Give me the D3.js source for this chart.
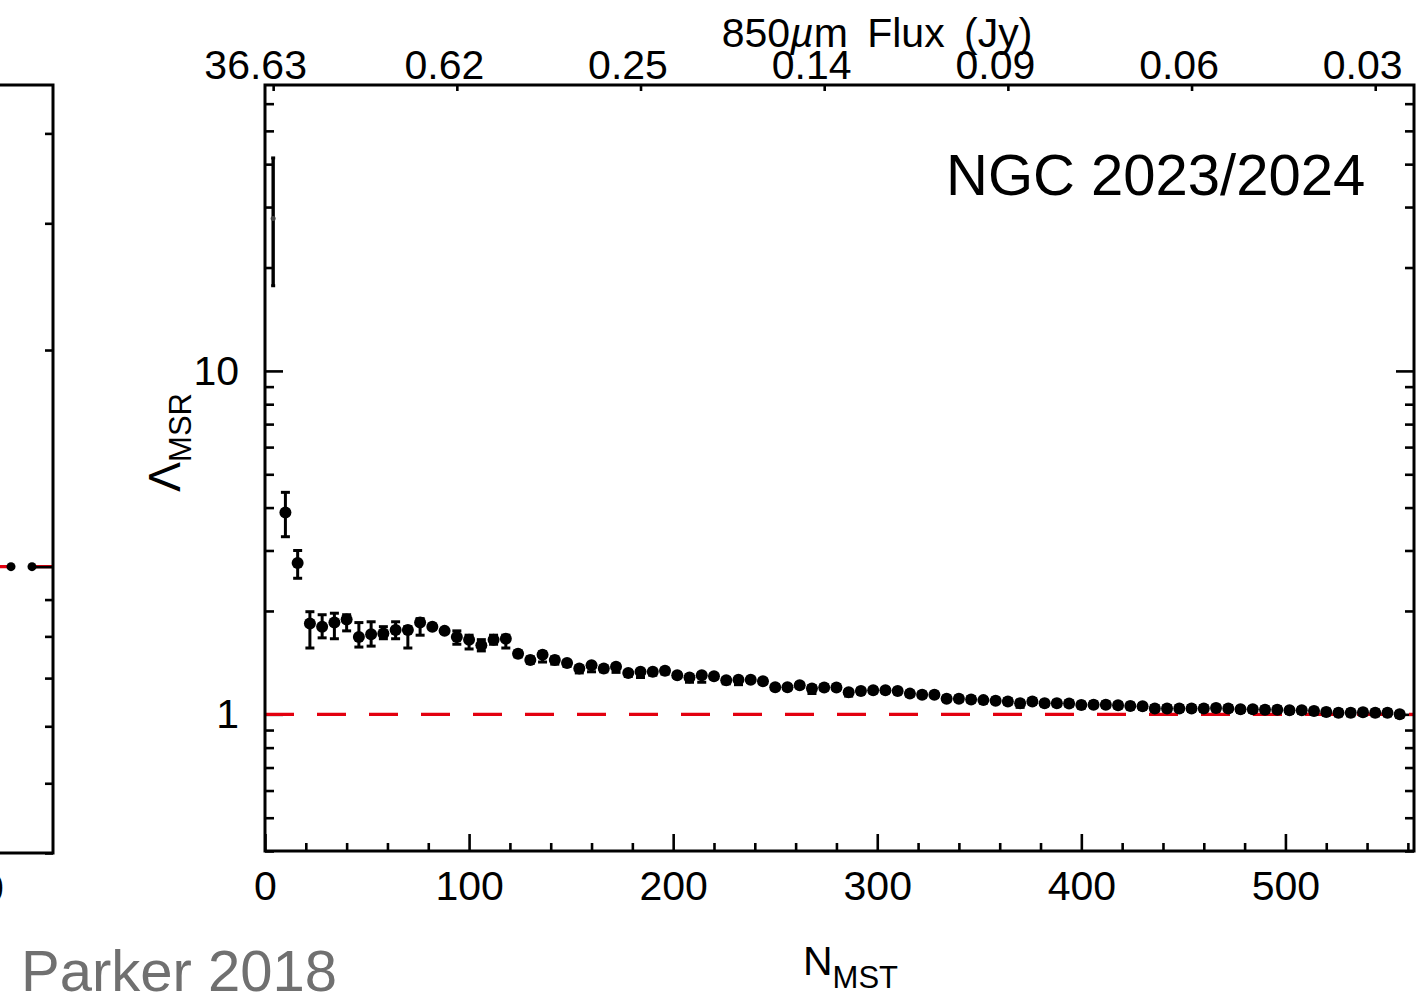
<!DOCTYPE html>
<html>
<head>
<meta charset="utf-8">
<script src="https://cdn.jsdelivr.net/npm/d3@7"></script>
<style>
  body { margin: 0; background: #fff; }
  svg { display: block; }
  text { font-family: "Liberation Sans", Arial, Helvetica, sans-serif; }
</style>
</head>
<body>
<svg id="chart" width="1424" height="994"></svg>
<script>
// Number of cores included in the minimum spanning tree
const nMST = [
  4, 10, 16, 22, 28, 34, 40, 46, 52, 58,
  64, 70, 76, 82, 88, 94, 100, 106, 112, 118,
  124, 130, 136, 142, 148, 154, 160, 166, 172, 178,
  184, 190, 196, 202, 208, 214, 220, 226, 232, 238,
  244, 250, 256, 262, 268, 274, 280, 286, 292, 298,
  304, 310, 316, 322, 328, 334, 340, 346, 352, 358,
  364, 370, 376, 382, 388, 394, 400, 406, 412, 418,
  424, 430, 436, 442, 448, 454, 460, 466, 472, 478,
  484, 490, 496, 502, 508, 514, 520, 526, 532, 538,
  544, 550, 556
];

// Mass segregation ratio for each N_MST
const lambdaMSR = [
  27.8, 3.87, 2.76, 1.84, 1.80, 1.85, 1.89, 1.68, 1.71, 1.72,
  1.76, 1.76, 1.85, 1.80, 1.75, 1.68, 1.65, 1.59, 1.65, 1.66,
  1.50, 1.44, 1.49, 1.44, 1.41, 1.36, 1.39, 1.36, 1.375, 1.32,
  1.33, 1.33, 1.34, 1.30, 1.28, 1.30, 1.29, 1.257, 1.26, 1.26,
  1.249, 1.20, 1.20, 1.216, 1.19, 1.197, 1.197, 1.16, 1.17, 1.175,
  1.175, 1.17, 1.149, 1.14, 1.14, 1.11, 1.11, 1.105, 1.10, 1.095,
  1.09, 1.078, 1.09, 1.078, 1.078, 1.075, 1.065, 1.067, 1.067, 1.063,
  1.058, 1.055, 1.04, 1.04, 1.04, 1.04, 1.04, 1.043, 1.04, 1.034,
  1.034, 1.032, 1.032, 1.027, 1.027, 1.022, 1.016, 1.01, 1.01, 1.014,
  1.01, 1.01, 1.0
];

// Lower and upper uncertainties on lambdaMSR
const errMinus = [
  10.1, 0.58, 0.27, 0.28, 0.13, 0.19, 0.14, 0.11, 0.13, 0.06,
  0.10, 0.20, 0.15, 0.03, 0.03, 0.08, 0.10, 0.06, 0.05, 0.10,
  0.03, 0.03, 0.07, 0.04, 0.03, 0.04, 0.06, 0.03, 0.05, 0.03,
  0.05, 0.03, 0.03, 0.02, 0.04, 0.06, 0.02, 0.03, 0.04, 0.02,
  0.02, 0.02, 0.02, 0.02, 0.04, 0.02, 0.02, 0.03, 0.02, 0.02,
  0.02, 0.02, 0.02, 0.02, 0.02, 0.02, 0.02, 0.02, 0.02, 0.02,
  0.02, 0.03, 0.02, 0.02, 0.02, 0.02, 0.02, 0.02, 0.02, 0.02,
  0.02, 0.02, 0.02, 0.02, 0.02, 0.02, 0.02, 0.02, 0.02, 0.02,
  0.02, 0.02, 0.02, 0.02, 0.02, 0.02, 0.02, 0.02, 0.02, 0.02,
  0.02, 0.02, 0.02
];
const errPlus = [
  13.9, 0.56, 0.24, 0.15, 0.15, 0.12, 0.06, 0.17, 0.15, 0.08,
  0.10, 0.04, 0.05, 0.03, 0.03, 0.07, 0.05, 0.06, 0.05, 0.04,
  0.03, 0.03, 0.03, 0.03, 0.02, 0.02, 0.02, 0.02, 0.02, 0.02,
  0.02, 0.02, 0.02, 0.02, 0.02, 0.02, 0.02, 0.02, 0.02, 0.02,
  0.02, 0.02, 0.02, 0.02, 0.02, 0.02, 0.02, 0.02, 0.02, 0.02,
  0.02, 0.02, 0.02, 0.02, 0.02, 0.02, 0.02, 0.02, 0.02, 0.02,
  0.02, 0.02, 0.02, 0.02, 0.02, 0.02, 0.02, 0.02, 0.02, 0.02,
  0.02, 0.02, 0.02, 0.02, 0.02, 0.02, 0.02, 0.02, 0.02, 0.02,
  0.02, 0.02, 0.02, 0.02, 0.02, 0.02, 0.02, 0.02, 0.02, 0.02,
  0.02, 0.02, 0.02
];

// Bottom axis ticks (N_MST)
const xMajorTicks = [0, 100, 200, 300, 400, 500];
const xMinorTicks = [20, 40, 60, 80, 120, 140, 160, 180, 220, 240, 260, 280,
  320, 340, 360, 380, 420, 440, 460, 480, 520, 540, 560];

// Left / right axis ticks (lambda_MSR, log)
const yMajorTicks = [1, 10];
const yMinorTicks = [0.4, 0.5, 0.6, 0.7, 0.8, 0.9, 2, 3, 4, 5, 6, 7, 8, 9, 20, 30, 40, 50, 60];

// Top axis: 850 micron flux of the N-th core
const fluxTickN = [4, 94, 184, 274, 364, 454, 544];
const fluxTickLabels = ["36.63", "0.62", "0.25", "0.14", "0.09", "0.06", "0.03"];

// Neighbouring panel (only its right edge is shown)
const sideN = [262, 268];
const sideLambda = [1.0, 1.0];
const sideXTicks = [250];
const sideYMajorTicks = [1];
const sideYMinorTicks = [0.4, 0.5, 0.6, 0.7, 0.8, 0.9, 2, 3, 4];

(function draw() {
  const svg = d3.select("#chart");
  const RED = "#e3000f";
  const FONT_TICK = 41;

  // ---------- main panel ----------
  const pLeft = 265, pRight = 1414, pTop = 85, pBottom = 851;
  const x = d3.scaleLinear().domain([0, 563]).range([pLeft, pRight]);
  const y = d3.scaleLog().domain([0.4, 68]).range([pBottom, pTop]);

  const main = svg.append("g");

  function styleAxis(g) {
    g.select(".domain").remove();
    g.selectAll(".tick line").attr("stroke", "#000").attr("stroke-width", 2.6);
    g.selectAll(".tick text").attr("fill", "#000").style("font-size", FONT_TICK + "px");
  }

  // bottom axis
  main.append("g").attr("transform", `translate(0,${pBottom})`)
    .call(d3.axisBottom(x).tickValues(xMinorTicks).tickSize(-8).tickFormat(""))
    .call(styleAxis);
  main.append("g").attr("transform", `translate(0,${pBottom})`)
    .call(d3.axisBottom(x).tickValues(xMajorTicks).tickSize(-17).tickPadding(20).tickFormat(d3.format("d")))
    .call(styleAxis);

  // left axis
  main.append("g").attr("transform", `translate(${pLeft},0)`)
    .call(d3.axisLeft(y).tickValues(yMinorTicks).tickSize(-9).tickFormat(""))
    .call(styleAxis);
  main.append("g").attr("transform", `translate(${pLeft},0)`)
    .call(d3.axisLeft(y).tickValues(yMajorTicks).tickSize(-18).tickPadding(26).tickFormat(d3.format("d")))
    .call(styleAxis);

  // right axis
  main.append("g").attr("transform", `translate(${pRight},0)`)
    .call(d3.axisRight(y).tickValues(yMinorTicks).tickSize(-9).tickFormat(""))
    .call(styleAxis);
  main.append("g").attr("transform", `translate(${pRight},0)`)
    .call(d3.axisRight(y).tickValues(yMajorTicks).tickSize(-18).tickFormat(""))
    .call(styleAxis);

  // top axis: flux
  const topAxis = main.append("g").attr("transform", `translate(0,${pTop})`)
    .call(d3.axisTop(x).tickValues(fluxTickN).tickSize(-6).tickPadding(6)
      .tickFormat((d, i) => fluxTickLabels[i]))
    .call(styleAxis);
  topAxis.selectAll(".tick text").attr("dx", (d, i) => i === 0 ? -18 : -13);

  // reference line at lambda = 1
  main.append("line")
    .attr("x1", pLeft).attr("x2", pRight)
    .attr("y1", y(1)).attr("y2", y(1))
    .attr("stroke", RED).attr("stroke-width", 3.2)
    .attr("stroke-dasharray", "29,23");

  // data with error bars
  const pts = nMST.map((n, i) => ({ n, v: lambdaMSR[i], lo: lambdaMSR[i] - errMinus[i], hi: lambdaMSR[i] + errPlus[i], i }));
  const bars = main.append("g").attr("stroke", "#000").attr("stroke-width", 3);
  pts.forEach(d => {
    const cx = x(d.n);
    bars.append("line").attr("x1", cx).attr("x2", cx).attr("y1", y(d.lo)).attr("y2", y(d.hi))
      .attr("stroke-width", d.i === 0 ? 3.4 : 3);
    const cap = d.i === 0 ? 2 : 4.5;
    bars.append("line").attr("x1", cx - cap).attr("x2", cx + cap).attr("y1", y(d.lo)).attr("y2", y(d.lo));
    bars.append("line").attr("x1", cx - cap).attr("x2", cx + cap).attr("y1", y(d.hi)).attr("y2", y(d.hi));
  });
  main.append("g").selectAll("circle").data(pts).join("circle")
    .attr("cx", d => x(d.n)).attr("cy", d => y(d.v))
    .attr("r", d => d.i === 0 ? 2.5 : 6)
    .attr("fill", d => d.i === 0 ? "#444" : "#000");

  // frame
  main.append("rect").attr("x", pLeft).attr("y", pTop)
    .attr("width", pRight - pLeft).attr("height", pBottom - pTop)
    .attr("fill", "none").attr("stroke", "#000").attr("stroke-width", 3);

  // titles
  main.append("text").attr("x", 946).attr("y", 195)
    .style("font-size", "58px").attr("fill", "#000").text("NGC 2023/2024");

  const topTitle = main.append("text").attr("x", 877).attr("y", 47)
    .attr("text-anchor", "middle").style("font-size", "41px")
    .style("word-spacing", "8px").attr("fill", "#000");
  topTitle.append("tspan").text("850");
  topTitle.append("tspan").style("font-style", "italic").text("\u00b5");
  topTitle.append("tspan").text("m Flux (Jy)");

  const xTitle = main.append("text").attr("x", 803).attr("y", 975)
    .style("font-size", "41px").attr("fill", "#000");
  xTitle.append("tspan").text("N");
  xTitle.append("tspan").attr("dy", 13).style("font-size", "31px").text("MST");

  const yTitle = main.append("text")
    .attr("transform", "translate(180,492) rotate(-90)")
    .style("font-size", "45px").attr("fill", "#000");
  yTitle.append("tspan").text("\u039b");
  yTitle.append("tspan").attr("dy", 11).style("font-size", "31px").text("MSR");

  // ---------- neighbouring panel (cut off at the left edge) ----------
  const sRight = 53, sTop = 85, sBottom = 853;
  const xs = d3.scaleLinear().domain([0, 274]).range([sRight - 274 * 3.5, sRight]);
  const ys = d3.scaleLog().domain([0.4, 4.67]).range([sBottom, sTop]);
  const side = svg.append("g");

  side.append("line").attr("x1", xs(0)).attr("x2", sRight).attr("y1", ys(1)).attr("y2", ys(1))
    .attr("stroke", RED).attr("stroke-width", 3.2).attr("stroke-dasharray", "29,23");
  side.append("g").attr("transform", `translate(${sRight},0)`)
    .call(d3.axisRight(ys).tickValues(sideYMinorTicks).tickSize(-8).tickFormat(""))
    .call(styleAxis);
  side.append("g").attr("transform", `translate(${sRight},0)`)
    .call(d3.axisRight(ys).tickValues(sideYMajorTicks).tickSize(-20).tickFormat(""))
    .call(styleAxis);
  side.append("g").attr("transform", `translate(0,${sBottom})`)
    .call(d3.axisBottom(xs).tickValues(sideXTicks).tickSize(-17).tickPadding(20).tickFormat(d3.format("d")))
    .call(styleAxis);
  side.append("g").selectAll("circle").data(sideN.map((n, i) => ({ n, v: sideLambda[i] }))).join("circle")
    .attr("cx", d => xs(d.n)).attr("cy", d => ys(d.v)).attr("r", 4.5).attr("fill", "#000");
  side.append("rect").attr("x", xs(0)).attr("y", sTop)
    .attr("width", sRight - xs(0)).attr("height", sBottom - sTop)
    .attr("fill", "none").attr("stroke", "#000").attr("stroke-width", 3);

  // source credit
  svg.append("text").attr("x", 21).attr("y", 991)
    .style("font-size", "58px").attr("fill", "#707070").text("Parker 2018");
})();
</script>
</body>
</html>
